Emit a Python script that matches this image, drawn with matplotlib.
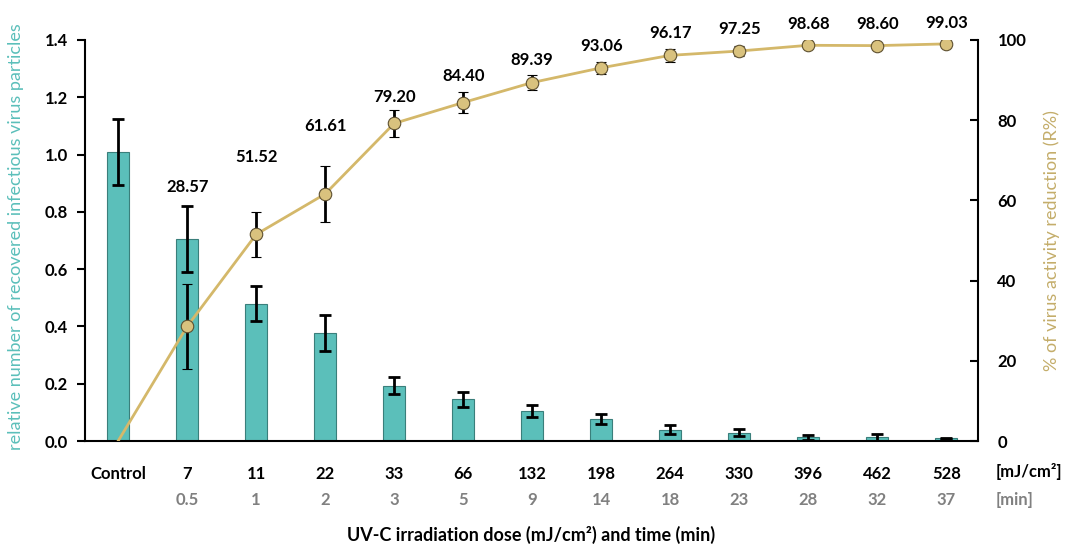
import matplotlib
matplotlib.use("Agg")
import matplotlib.pyplot as plt
import numpy as np

plt.rcParams['font.family'] = ['Lato', 'DejaVu Sans']

doses = ["Control", "7", "11", "22", "33", "66", "132", "198", "264", "330", "396", "462", "528"]
times = ["", "0.5", "1", "2", "3", "5", "9", "14", "18", "23", "28", "32", "37"]
relative = [1.01, 0.705, 0.48, 0.377, 0.193, 0.145, 0.106, 0.076, 0.040, 0.029, 0.013, 0.013, 0.009]
relative_err = [0.115, 0.115, 0.06, 0.063, 0.03, 0.025, 0.021, 0.017, 0.016, 0.012, 0.009, 0.012, 0.002]
reduction = [0.0, 28.57, 51.52, 61.61, 79.20, 84.40, 89.39, 93.06, 96.17, 97.25, 98.68, 98.60, 99.03]
reduction_err = [0.0, 10.6, 5.6, 7.0, 3.3, 2.7, 1.8, 1.5, 1.6, 1.3, 0.5, 0.5, 0.3]
label_y = [None, 63.4, 70.7, 78.6, 85.9, 91.0, 95.0, 98.5, 101.7, 102.7, 104.0, 104.0, 104.2]

teal = "#5BBFBA"
teal_edge = "#3A7F7B"
gold = "#D4B86A"
gold_fill = "#D9C27E"
gold_text = "#C4AD6A"

fig = plt.figure(figsize=(10.69, 5.51), dpi=100)
ax = fig.add_axes([85/1069, 110/551, (978-85)/1069, (441-40)/551])
x = np.arange(len(doses))

ax.bar(x, relative, width=0.32, color=teal, edgecolor=teal_edge, linewidth=0.8, zorder=2)
ax.errorbar(x, relative, yerr=relative_err, fmt='none', ecolor='black',
            elinewidth=2, capsize=4, capthick=2, zorder=3)
ax.set_xlim(-0.48, 12.46)
ax.set_ylim(0, 1.4)
ax.set_yticks(np.arange(0, 1.41, 0.2))
ax.set_yticklabels([f"{v:.1f}" for v in np.arange(0, 1.41, 0.2)], fontweight='bold', fontsize=12)
ax.set_xticks(x)
ax.set_xticklabels(doses, fontweight='bold', fontsize=12)
ax.tick_params(axis='x', length=0, pad=18)
ax.tick_params(axis='y', direction='out', length=6, width=1.5, pad=6)
for s in ['top', 'right']:
    ax.spines[s].set_visible(False)
ax.spines['left'].set_linewidth(1.5)
ax.spines['bottom'].set_linewidth(1.5)
ax.set_ylabel("relative number of recovered infectious virus particles", color=teal,
              fontsize=13)
ax.yaxis.set_label_coords(-0.068, 0.51)

trans = ax.get_xaxis_transform()
for xi, t in zip(x, times):
    if t:
        ax.text(xi, -0.147, t, transform=trans, ha='center', va='center',
                fontsize=12, fontweight='bold', color='#808080')
ax.text(12.72, -0.077, "[mJ/cm²]", transform=trans, ha='left', va='center',
        fontsize=12, fontweight='bold', color='black', clip_on=False)
ax.text(12.72, -0.147, "[min]", transform=trans, ha='left', va='center',
        fontsize=12, fontweight='bold', color='#808080', clip_on=False)
ax.text(0.50, -0.234, "UV-C irradiation dose (mJ/cm²) and time (min)", transform=ax.transAxes,
        ha='center', va='center', fontsize=13, fontweight='bold', color='black')

ax2 = ax.twinx()
ax2.set_ylim(0, 100)
ax2.plot(x, reduction, color=gold, linewidth=2, zorder=2)
ax2.errorbar(x[1:], reduction[1:], yerr=reduction_err[1:], fmt='o', color=gold,
             markerfacecolor=gold_fill, markeredgecolor='#5E5030', markeredgewidth=0.8,
             markersize=9, ecolor='black', elinewidth=2, capsize=3.5, capthick=2, zorder=3)
for xi, v, ly in zip(x, reduction, label_y):
    if ly is not None:
        ax2.text(xi, ly, f"{v:.2f}", ha='center', va='center', fontsize=12,
                 fontweight='bold', clip_on=False)
ax2.set_yticks([0, 20, 40, 60, 80, 100])
ax2.set_yticklabels(["0", "20", "40", "60", "80", "100"], fontweight='bold', fontsize=12)
ax2.tick_params(axis='y', direction='in', length=6, width=1.5, pad=14)
for s in ['top', 'left', 'bottom']:
    ax2.spines[s].set_visible(False)
ax2.spines['right'].set_linewidth(1.5)
ax2.set_ylabel("% of virus activity reduction (R%)", color=gold_text, fontsize=13, labelpad=12)

fig.savefig("out.png", dpi=100)
